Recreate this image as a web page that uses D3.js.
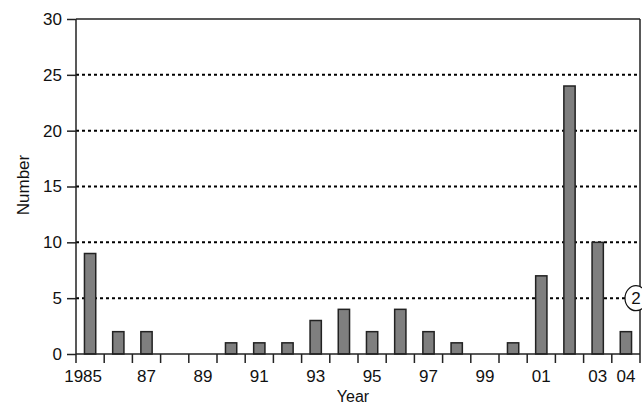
<!DOCTYPE html>
<html>
<head>
<meta charset="utf-8">
<script src="https://cdn.jsdelivr.net/npm/d3@7"></script>
<style>
  body { margin: 0; background: #fff; }
  text { font-family: "Liberation Sans", Arial, sans-serif; }
</style>
</head>
<body>
<div id="chart"></div>
<script>
const years = d3.range(1985, 2005);
const counts = [9, 2, 2, 0, 0, 1, 1, 1, 3, 4, 2, 4, 2, 1, 0, 1, 7, 24, 10, 2];
const yearLabels = ['1985', '87', '89', '91', '93', '95', '97', '99', '01', '03', '04'];
const labelYears = [1985, 1987, 1989, 1991, 1993, 1995, 1997, 1999, 2001, 2003, 2004];
const yTicks = [0, 5, 10, 15, 20, 25, 30];

const width = 642, height = 406;
const margin = { top: 19, right: 2, bottom: 52, left: 76 };
const w = width - margin.left - margin.right;
const h = height - margin.top - margin.bottom;

const svg = d3.select('#chart')
    .append('svg')
    .attr('width', width)
    .attr('height', height);

const g = svg.append('g')
    .attr('transform', `translate(${margin.left}, ${margin.top})`);

const x = d3.scaleBand()
    .domain(years)
    .range([0, w])
    .paddingInner(0.6)
    .paddingOuter(0.3);

const y = d3.scaleLinear()
    .domain([0, 30])
    .range([h, 0]);

// dotted grid lines
g.selectAll('.grid')
    .data(yTicks.filter(d => d > 0 && d < 30))
    .enter()
    .append('line')
    .attr('x1', 0)
    .attr('x2', w)
    .attr('y1', d => y(d))
    .attr('y2', d => y(d))
    .attr('stroke', '#000')
    .attr('stroke-width', 2)
    .attr('stroke-dasharray', '3,3');

// frame: top and right
g.append('line').attr('x1', 0).attr('x2', w).attr('y1', 0).attr('y2', 0)
    .attr('stroke', '#222').attr('stroke-width', 1.5);
g.append('line').attr('x1', w).attr('x2', w).attr('y1', 0).attr('y2', h)
    .attr('stroke', '#222').attr('stroke-width', 1.5);

// bars
g.selectAll('.bar')
    .data(years.map((yr, i) => ({ year: yr, value: counts[i] })).filter(d => d.value > 0))
    .enter()
    .append('rect')
    .attr('class', 'bar')
    .attr('x', d => x(d.year))
    .attr('width', x.bandwidth())
    .attr('y', d => y(d.value))
    .attr('height', d => y(0) - y(d.value))
    .attr('fill', '#7f7f7f')
    .attr('stroke', '#222')
    .attr('stroke-width', 1.5);

// y axis
const yAxis = d3.axisLeft(y)
    .tickValues(yTicks)
    .tickSize(9)
    .tickPadding(5);
const ya = g.append('g').call(yAxis);
ya.select('.domain').attr('stroke', '#222').attr('stroke-width', 1.5).attr('d', `M0,0V${h}`);
ya.selectAll('.tick line').attr('stroke', '#222').attr('stroke-width', 1.5);
ya.selectAll('text').attr('font-size', 17).attr('fill', '#111')
    .attr('font-family', '"Liberation Sans", Arial, sans-serif');

// x axis baseline and boundary ticks
g.append('line').attr('x1', 0).attr('x2', w).attr('y1', h).attr('y2', h)
    .attr('stroke', '#222').attr('stroke-width', 1.5);
const step = x.step();
const x0 = x(years[0]) - x.paddingOuter() * step;
g.selectAll('.xtick')
    .data(d3.range(years.length + 1))
    .enter()
    .append('line')
    .attr('x1', i => x0 + i * step)
    .attr('x2', i => x0 + i * step)
    .attr('y1', h)
    .attr('y2', h + 9)
    .attr('stroke', '#222')
    .attr('stroke-width', 1.5);

// x labels
g.selectAll('.xlabel')
    .data(labelYears)
    .enter()
    .append('text')
    .attr('x', (d, i) => x(d) + x.bandwidth() / 2 + (i === 0 ? -7 : 0))
    .attr('y', h + 28)
    .attr('text-anchor', 'middle')
    .attr('font-size', 17)
    .attr('fill', '#111')
    .text((d, i) => yearLabels[i]);

// axis titles
svg.append('text')
    .attr('x', 353)
    .attr('y', 402)
    .attr('text-anchor', 'middle')
    .attr('font-size', 16)
    .attr('fill', '#111')
    .text('Year');

svg.append('text')
    .attr('transform', 'translate(29, 185) rotate(-90)')
    .attr('text-anchor', 'middle')
    .attr('font-size', 17)
    .attr('fill', '#111')
    .text('Number');

// circled annotation at right edge
const note = g.append('g').attr('transform', `translate(${w - 4}, ${y(5)})`);
note.append('ellipse')
    .attr('rx', 11)
    .attr('ry', 12.5)
    .attr('fill', '#fff')
    .attr('stroke', '#111')
    .attr('stroke-width', 1.2);
note.append('text')
    .attr('x', 0)
    .attr('y', 6)
    .attr('text-anchor', 'middle')
    .attr('font-size', 17)
    .attr('fill', '#111')
    .text('2');
</script>
</body>
</html>
